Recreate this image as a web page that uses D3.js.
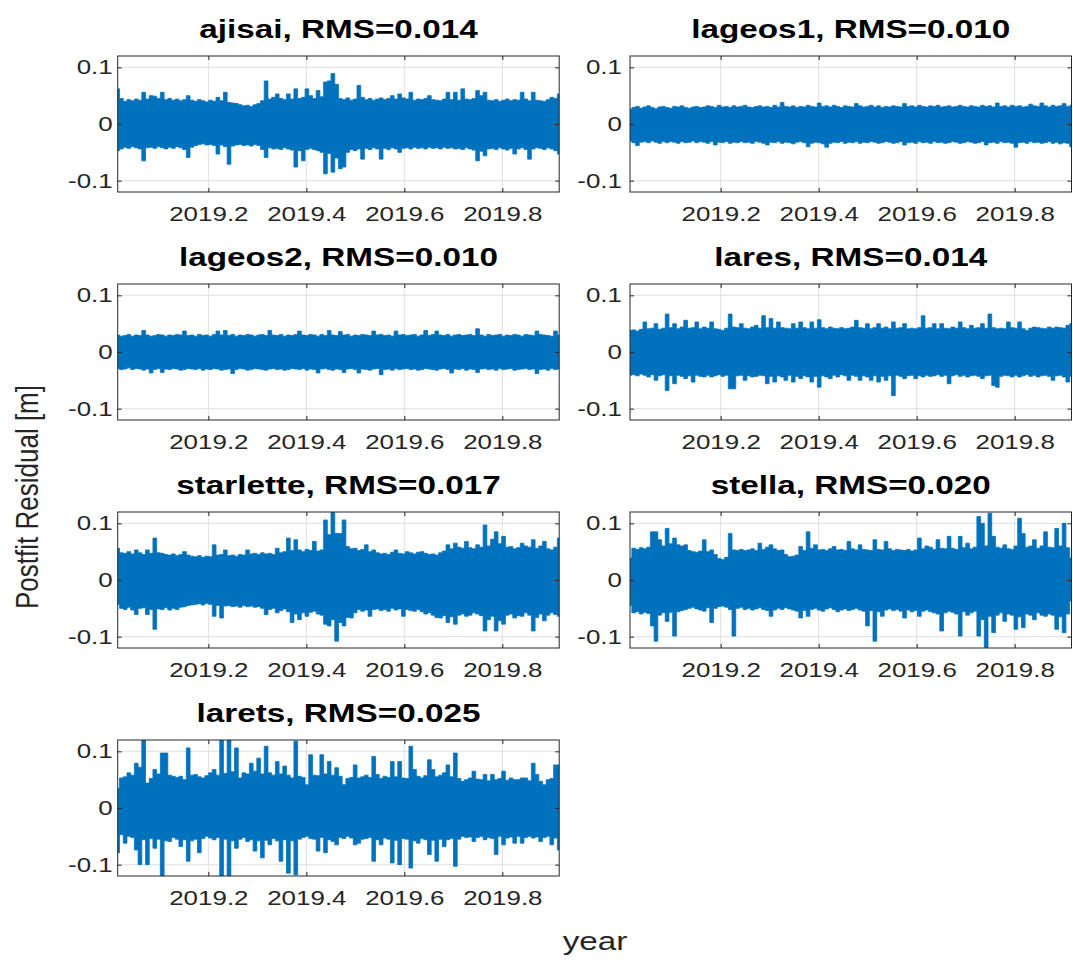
<!DOCTYPE html>
<html>
<head>
<meta charset="utf-8">
<script src="https://cdn.jsdelivr.net/npm/d3@7"></script>
<style>
  body { margin: 0; background: #ffffff; }
  svg { display: block; }
</style>
</head>
<body>
<svg id="fig" width="1073" height="960"></svg>
<script>
// ---- data -------------------------------------------------------------
const satellites = ["ajisai", "lageos1", "lageos2", "lares", "starlette", "stella", "larets"];
const rmsValues  = [0.014, 0.010, 0.010, 0.014, 0.017, 0.020, 0.025];
const xTickValues = [2019.2, 2019.4, 2019.6, 2019.8];
const yTickValues = [-0.1, 0, 0.1];
const timeRange = [2019.015, 2019.916];   // decimal year covered by the residuals
const yRange = [-0.12, 0.12];             // m

// Residual extremes per sampling interval, in millimetres:
// the upper (Hi) and lower (Lo) excursion of each of 120 intervals.
const ajisaiHi = [62,45,40,43,41,44,42,56,44,50, 49,45,56,43,45,42,44,41,43,50,
  42,40,43,41,39,42,40,47,41,56, 38,37,36,34,32,33,31,34,36,41,
  76,44,47,53,45,43,53,44,62,45, 47,62,50,45,59,48,74,76,89,70,
  45,43,46,42,44,68,47,43,45,42, 44,46,43,45,50,44,53,46,44,56,
  42,44,43,45,50,43,42,41,44,56, 43,56,42,62,44,43,45,59,50,56,
  42,41,43,40,42,44,41,43,42,56, 44,41,56,42,41,40,43,47,45,53];
const ajisaiLo = [-47,-44,-41,-43,-40,-42,-44,-65,-42,-41, -43,-40,-42,-44,-41,-43,-40,-42,-45,-59,
  -41,-38,-36,-35,-37,-36,-38,-53,-37,-40, -71,-39,-37,-36,-38,-37,-39,-36,-38,-45,
  -59,-42,-44,-43,-45,-42,-44,-46,-76,-47, -65,-45,-43,-45,-47,-50,-88,-52,-85,-60,
  -79,-76,-50,-45,-47,-44,-62,-43,-45,-42, -44,-62,-43,-45,-42,-44,-50,-43,-42,-44,
  -41,-43,-42,-44,-41,-43,-42,-44,-41,-43, -42,-44,-43,-45,-42,-44,-46,-65,-48,-56,
  -44,-43,-45,-42,-44,-46,-43,-53,-44,-42, -45,-62,-44,-42,-43,-45,-42,-44,-47,-53];

const lageos1Hi = [26,29,31,28,30,32,29,27,30,31, 29,28,31,30,32,29,28,30,31,29,
  30,32,31,29,33,30,31,29,32,30, 31,33,30,29,31,32,30,31,29,33,
  30,38,31,30,32,29,31,30,33,31, 30,37,31,32,30,33,31,29,32,31,
  30,36,32,30,31,33,30,32,29,31, 30,32,31,30,36,31,32,30,33,31,
  30,32,31,33,30,31,32,30,31,33, 31,30,32,31,30,33,31,32,30,37,
  31,32,30,33,31,32,30,31,35,32, 31,37,32,30,33,31,32,36,31,33];
const lageos1Lo = [-30,-33,-38,-32,-31,-33,-30,-32,-34,-31, -33,-31,-32,-34,-31,-33,-32,-30,-33,-31,
  -32,-34,-31,-37,-32,-33,-31,-34,-32,-33, -31,-33,-32,-34,-31,-32,-34,-37,-32,-33,
  -31,-34,-32,-33,-35,-32,-31,-33,-40,-34, -32,-33,-35,-41,-34,-32,-33,-31,-34,-32,
  -33,-31,-34,-32,-33,-31,-32,-34,-33,-31, -32,-34,-33,-31,-37,-33,-32,-34,-31,-33,
  -32,-34,-31,-33,-32,-34,-33,-31,-32,-34, -33,-31,-32,-34,-33,-31,-37,-33,-32,-34,
  -31,-33,-32,-34,-41,-33,-32,-34,-31,-33, -32,-34,-33,-31,-34,-32,-35,-33,-34,-40];

const lageos2Hi = [30,28,29,31,28,30,29,38,30,28, 29,31,30,28,30,29,31,30,37,29,
  30,28,31,29,30,28,31,37,30,38, 29,31,28,30,29,31,30,28,30,31,
  29,38,30,29,31,28,30,29,31,37, 30,29,31,30,28,31,29,38,30,29,
  36,30,31,28,30,29,31,30,29,37, 30,31,29,30,28,37,30,31,29,30,
  31,28,30,38,29,31,37,30,29,31, 28,30,31,29,30,31,29,41,30,28,
  31,29,30,31,28,30,29,31,30,28, 31,30,29,37,31,30,29,28,37,30];
const lageos2Lo = [-29,-31,-30,-28,-31,-29,-30,-32,-30,-37, -31,-29,-36,-30,-31,-29,-30,-32,-31,-29,
  -30,-31,-29,-32,-30,-31,-29,-30,-32,-31, -30,-38,-31,-29,-30,-32,-31,-29,-30,-31,
  -32,-30,-29,-31,-30,-32,-31,-29,-30,-31, -29,-32,-30,-31,-37,-30,-29,-31,-32,-30,
  -31,-36,-30,-29,-31,-37,-30,-31,-32,-30, -29,-40,-31,-30,-32,-29,-31,-30,-29,-31,
  -30,-32,-31,-29,-30,-31,-32,-30,-29,-31, -37,-30,-31,-29,-32,-30,-31,-36,-30,-29,
  -31,-30,-32,-29,-31,-30,-29,-32,-31,-30, -29,-31,-30,-38,-31,-30,-32,-29,-31,-30];

const laresHi = [38,39,37,40,53,41,42,50,40,42, 67,43,50,41,44,56,42,43,53,41,
  44,42,53,41,40,38,42,67,44,43, 50,42,41,44,47,42,64,43,59,42,
  53,43,42,41,50,42,53,43,41,53, 42,57,43,41,44,42,41,43,41,42,
  44,56,43,42,50,41,43,50,42,44, 41,53,42,43,50,41,42,41,43,64,
  42,43,50,41,50,42,41,44,42,53, 43,41,47,42,43,50,42,67,43,41,
  42,41,53,43,42,53,41,38,42,44, 43,42,41,44,42,44,43,42,47,50];
const laresLo = [-41,-40,-42,-39,-41,-44,-40,-50,-42,-40, -68,-42,-56,-41,-43,-47,-42,-53,-41,-43,
  -44,-41,-44,-42,-40,-43,-41,-65,-65,-42, -41,-50,-42,-44,-43,-41,-42,-56,-43,-53,
  -42,-44,-50,-41,-53,-43,-47,-42,-44,-53, -43,-62,-42,-44,-47,-41,-44,-40,-42,-50,
  -41,-43,-50,-42,-44,-50,-42,-53,-43,-50, -42,-77,-41,-43,-47,-42,-41,-47,-42,-44,
  -41,-43,-42,-40,-43,-41,-56,-42,-40,-43, -41,-44,-42,-41,-43,-47,-42,-41,-59,-62,
  -43,-41,-42,-44,-41,-44,-42,-40,-43,-41, -44,-42,-41,-43,-50,-42,-41,-44,-53,-43];

const starletteHi = [56,48,47,50,46,53,48,45,53,47, 74,48,47,45,44,46,43,45,50,44,
  42,41,43,40,42,41,62,44,45,53, 43,44,42,45,44,53,46,47,45,48,
  46,47,45,56,48,50,74,52,71,53, 50,54,52,68,51,53,106,80,125,82,
  82,106,59,55,56,52,54,62,50,53, 48,46,47,45,49,53,47,46,50,48,
  46,49,50,47,45,46,44,48,51,62, 55,65,58,56,68,57,55,62,58,97,
  60,72,85,64,77,58,59,55,57,65, 60,58,71,56,60,68,55,53,58,74];
const starletteLo = [-43,-50,-52,-48,-53,-61,-50,-49,-61,-52, -87,-51,-52,-49,-53,-50,-52,-48,-47,-45,
  -44,-43,-42,-44,-41,-43,-64,-45,-67,-46, -45,-47,-46,-48,-45,-47,-46,-48,-47,-50,
  -61,-52,-50,-58,-54,-51,-56,-75,-60,-70, -58,-64,-57,-55,-60,-62,-78,-81,-70,-108,
  -75,-81,-66,-67,-58,-52,-55,-53,-64,-52, -51,-54,-52,-55,-50,-53,-51,-64,-52,-54,
  -55,-52,-56,-60,-58,-62,-66,-67,-63,-75, -65,-78,-62,-60,-64,-62,-58,-60,-63,-90,
  -70,-64,-90,-72,-78,-62,-60,-67,-63,-64, -58,-62,-90,-66,-60,-72,-62,-58,-61,-64];

const stellaHi = [39,56,54,57,55,58,85,85,71,60, 91,64,74,62,60,62,52,50,49,51,
  71,50,53,45,38,36,40,82,53,52, 54,52,53,55,52,65,54,58,62,55,
  52,53,45,41,42,44,59,52,85,56, 62,53,54,52,55,59,53,54,52,68,
  55,53,62,54,53,52,71,54,53,68, 55,52,54,53,52,54,51,53,74,55,
  60,58,54,71,56,55,77,56,54,77, 57,65,55,58,112,100,60,118,77,58,
  56,62,55,54,60,109,82,58,60,71, 56,60,85,58,57,91,60,100,57,39];
const stellaLo = [-45,-58,-56,-60,-57,-59,-81,-108,-62,-58, -73,-57,-99,-56,-54,-52,-50,-48,-51,-53,
  -55,-49,-75,-50,-47,-46,-48,-52,-99,-50, -48,-52,-50,-53,-51,-49,-52,-54,-64,-53,
  -50,-52,-49,-51,-53,-55,-67,-54,-64,-52, -50,-53,-55,-51,-49,-52,-56,-53,-51,-54,
  -52,-50,-53,-55,-81,-54,-108,-56,-64,-53, -51,-54,-52,-55,-67,-53,-56,-54,-64,-55,
  -53,-56,-58,-60,-90,-58,-55,-57,-60,-99, -56,-62,-58,-55,-99,-70,-119,-64,-93,-62,
  -58,-73,-60,-62,-87,-65,-84,-60,-62,-70, -58,-62,-64,-60,-62,-87,-65,-93,-60,-37];

const laretsHi = [35,53,55,62,58,79,72,125,44,52, 68,60,97,97,58,56,54,56,50,106,
  58,59,55,53,57,62,68,58,125,61, 125,64,106,53,62,60,79,65,88,60,
  109,62,58,82,60,74,58,53,118,56, 54,41,94,58,57,94,60,82,58,71,
  56,41,52,54,76,53,55,58,54,91, 59,52,56,54,82,55,82,53,52,109,
  68,56,53,57,85,68,55,58,62,76, 55,97,52,47,50,53,65,51,50,59,
  48,59,50,52,65,49,53,50,50,53, 53,48,79,59,47,41,50,52,76,76];
const laretsLo = [-79,-47,-62,-50,-52,-74,-100,-56,-100,-54, -71,-55,-120,-58,-59,-52,-55,-68,-56,-94,
  -58,-55,-79,-54,-50,-53,-56,-52,-120,-55, -120,-58,-71,-55,-52,-59,-56,-76,-58,-88,
  -57,-65,-54,-58,-94,-56,-115,-58,-118,-55, -52,-50,-54,-55,-76,-52,-79,-56,-59,-65,
  -52,-54,-50,-53,-65,-62,-55,-54,-52,-94, -56,-65,-53,-55,-97,-57,-100,-54,-55,-106,
  -58,-62,-54,-56,-82,-57,-94,-55,-68,-56, -54,-103,-55,-50,-52,-51,-59,-52,-50,-56,
  -52,-54,-82,-50,-65,-53,-51,-62,-50,-62, -52,-50,-53,-51,-59,-52,-50,-65,-53,-74];

const upper = [ajisaiHi, lageos1Hi, lageos2Hi, laresHi, starletteHi, stellaHi, laretsHi];
const lower = [ajisaiLo, lageos1Lo, lageos2Lo, laresLo, starletteLo, stellaLo, laretsLo];

// ---- layout ------------------------------------------------------------
const colLeft = [117.7, 630];
const rowTop = [56, 284, 512, 740];
const axW = 441.5, axH = 136;
const SX = 1.28;                 // horizontal stretch of the figure's lettering
const TICK_SX = 1.26;
const TICK_FONT = 20.6;
const FONT = "'Liberation Sans', Arial, Helvetica, sans-serif";
const AXIS_COLOR = "#262626";
const GRID_COLOR = "#dfdfdf";
const LINE_COLOR = "#0072BD";
const yLabelPad = [5, 8];        // gap between y tick labels and the axis, per column

const svg = d3.select("#fig");
svg.append("rect").attr("width", 1073).attr("height", 960).attr("fill", "#ffffff");

satellites.forEach((name, k) => {
  const col = k % 2, row = Math.floor(k / 2);
  const left = colLeft[col], top = rowTop[row];

  const x = d3.scaleLinear().domain(timeRange).range([left, left + axW]);
  const y = d3.scaleLinear().domain(yRange).range([top + axH, top]);

  const g = svg.append("g").attr("class", "panel-" + name);

  // grid
  g.append("g").selectAll("line").data(xTickValues).join("line")
    .attr("x1", d => x(d)).attr("x2", d => x(d))
    .attr("y1", top).attr("y2", top + axH)
    .attr("stroke", GRID_COLOR).attr("stroke-width", 1);
  g.append("g").selectAll("line").data(yTickValues).join("line")
    .attr("x1", left).attr("x2", left + axW)
    .attr("y1", d => y(d)).attr("y2", d => y(d))
    .attr("stroke", GRID_COLOR).attr("stroke-width", 1);

  // residual trace, drawn as the min/max excursion of each sampling interval
  const hi = upper[k], lo = lower[k];
  const n = hi.length;
  const intervals = hi.map((h, i) => ({
    t: timeRange[0] + (timeRange[1] - timeRange[0]) * i / (n - 1),
    hi: h / 1000,
    lo: lo[i] / 1000
  }));

  const clipId = "clip-" + name;
  svg.append("clipPath").attr("id", clipId)
    .append("rect").attr("x", left).attr("y", top).attr("width", axW).attr("height", axH);

  g.append("path")
    .datum(intervals)
    .attr("clip-path", `url(#${clipId})`)
    .attr("fill", LINE_COLOR)
    .attr("stroke", LINE_COLOR)
    .attr("stroke-width", 0.8)
    .attr("stroke-linejoin", "round")
    .attr("d", d3.area().curve(d3.curveStep)
      .x(d => x(d.t)).y0(d => y(d.lo)).y1(d => y(d.hi)));

  // axes (inward ticks on all four sides)
  const axB = d3.axisBottom(x).tickValues(xTickValues).tickSize(-4).tickSizeOuter(0)
    .tickPadding(14.5).tickFormat(d3.format(".1f"));
  const axT = d3.axisTop(x).tickValues(xTickValues).tickSize(-4).tickSizeOuter(0).tickFormat("");
  const axL = d3.axisLeft(y).tickValues(yTickValues).tickSize(-4).tickSizeOuter(0)
    .tickPadding(yLabelPad[col] / TICK_SX).tickFormat(d => d === 0 ? "0" : String(d));
  const axR = d3.axisRight(y).tickValues(yTickValues).tickSize(-4).tickSizeOuter(0).tickFormat("");

  const styleAxis = sel => {
    sel.select(".domain").remove();
    sel.selectAll(".tick line").attr("stroke", AXIS_COLOR).attr("stroke-width", 1);
    sel.selectAll(".tick text")
      .attr("fill", AXIS_COLOR)
      .attr("font-family", FONT)
      .attr("font-size", TICK_FONT)
      .attr("transform", `scale(${TICK_SX},1)`);
  };
  g.append("g").attr("transform", `translate(0,${top + axH})`).call(axB).call(styleAxis);
  g.append("g").attr("transform", `translate(0,${top})`).call(axT).call(styleAxis);
  g.append("g").attr("transform", `translate(${left},0)`).call(axL).call(styleAxis);
  g.append("g").attr("transform", `translate(${left + axW},0)`).call(axR).call(styleAxis);

  // axes box
  g.append("rect")
    .attr("x", left).attr("y", top).attr("width", axW).attr("height", axH)
    .attr("fill", "none").attr("stroke", AXIS_COLOR).attr("stroke-width", 1);

  // title
  g.append("text")
    .attr("transform", `translate(${left + axW / 2},${top - 18}) scale(${SX},1)`)
    .attr("text-anchor", "middle")
    .attr("font-family", FONT)
    .attr("font-weight", "bold")
    .attr("font-size", 26)
    .attr("fill", "#000000")
    .text(`${name}, RMS=${d3.format(".3f")(rmsValues[k])}`);
});

// shared axis labels
svg.append("text")
  .attr("transform", `translate(38,497) scale(1.22,1) rotate(-90)`)
  .attr("text-anchor", "middle")
  .attr("font-family", FONT)
  .attr("font-size", 26)
  .attr("fill", AXIS_COLOR)
  .text("Postfit Residual [m]");

svg.append("text")
  .attr("transform", `translate(595,950) scale(${SX},1)`)
  .attr("text-anchor", "middle")
  .attr("font-family", FONT)
  .attr("font-size", 26)
  .attr("fill", AXIS_COLOR)
  .text("year");
</script>
</body>
</html>
